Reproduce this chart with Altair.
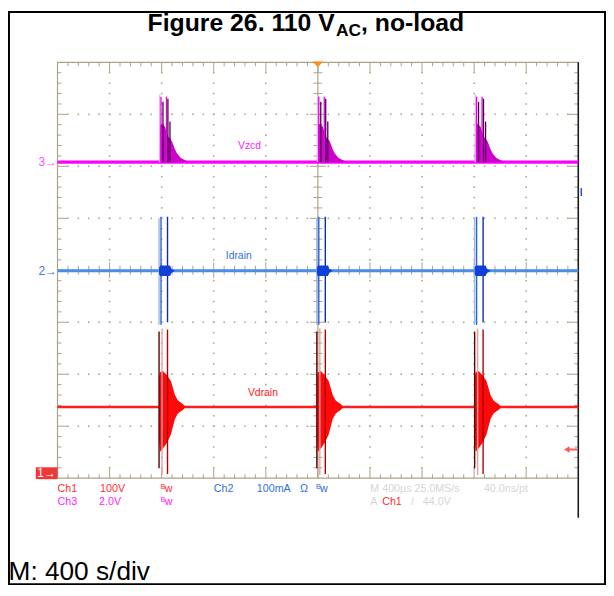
import altair as alt
import numpy as np
import pandas as pd

# ---------------- values ----------------
# horizontal: time in microseconds (400 us/div, 10 div); vertical: screen divisions (8 div)
burst_start_us = [780, 1992, 3204]

trace_names = ["Vzcd", "Idrain", "Vdrain"]
trace_base_div = [6.08, 3.99, 1.37]
trace_colors = ["#ff00ff", "#4a8ee8", "#ff1c1c"]

# Vzcd ringing envelope after each switching event (offset us, height div)
zcd_env_t = [0, 4, 23, 46, 68, 99, 122, 137, 167, 205, 228]
zcd_env_h = [0, 0.70, 0.74, 0.68, 0.50, 0.40, 0.25, 0.17, 0.08, 0.03, 0]
zcd_spike_t = [5, 15, 30, 57, 68, 84]
zcd_spike_h = [1.30, 1.26, 1.16, 1.26, 1.22, 0.78]
zcd_spike_c = ["#eab0f5", "#e600e6", "#4a0048", "#e600e6", "#4a0048", "#4a0048"]

# Idrain blob and spikes
idr_env_t = [0, 8, 84, 95, 122]
idr_env_h = [0.06, 0.10, 0.10, 0.04, 0]
idr_spike_t = [0, 15, 65]
idr_spike_top = [1.01, 1.04, 1.04]
idr_spike_bot = [-1.04, -1.04, -0.99]
idr_spike_c = ["#9db5e6", "#2a62d8", "#0b2fa8"]

# Vdrain ringing envelope and spikes
vdr_env_t = [0, 8, 30, 61, 91, 122, 144, 160, 183, 205]
vdr_env_up = [0.57, 0.67, 0.69, 0.61, 0.50, 0.23, 0.13, 0.095, 0.057, 0]
vdr_env_dn = [0.61, 0.86, 0.80, 0.69, 0.53, 0.23, 0.13, 0.095, 0.057, 0]
vdr_spike_t = [0, 23, 65]
vdr_spike_top = [1.45, 1.51, 1.49]
vdr_spike_bot = [-1.18, -1.31, -1.29]
vdr_spike_c = ["#5a0000", "#eca0a0", "#b00000"]

# ---------------- helpers ----------------
FONT = "Liberation Sans"
GRID = "#aba386"
xs = alt.Scale(domain=[0, 4000], nice=False, zero=False)
ys = alt.Scale(domain=[0, 8], nice=False, zero=False)


def X(f="x"):
    return alt.X(f"{f}:Q", scale=xs, axis=None)


def Y(f="y"):
    return alt.Y(f"{f}:Q", scale=ys, axis=None)


zb, ib, vb = trace_base_div

# ---------------- graticule ----------------
minor_x = np.round(np.arange(0, 4000.1, 80), 3)
minor_y = np.round(np.arange(0, 8.001, 0.2), 3)
major_x = [400 * i for i in range(1, 10) if i != 5]
major_y = [i for i in range(1, 8) if i != 4]

dots = [dict(x=mx, y=y) for mx in major_x for y in minor_y[1:-1]] + \
       [dict(x=x, y=my) for my in major_y for x in minor_x[1:-1]]
dots_df = pd.DataFrame(dots)

vt, ht = [], []
for x in minor_x[1:-1]:
    maj = abs(x / 400 - round(x / 400)) < 1e-6
    L = 0.19 if maj else 0.076
    vt.append(dict(x=x, y=0, y2=L))
    vt.append(dict(x=x, y=8, y2=8 - L))
    c = 0.152 if maj else 0.086
    vt.append(dict(x=x, y=4 - c, y2=4 + c))
for y in minor_y[1:-1]:
    maj = abs(y - round(y)) < 1e-6
    L = 76 if maj else 30.4
    ht.append(dict(x=0, x2=L, y=y))
    ht.append(dict(x=4000, x2=4000 - L, y=y))
    c = 61 if maj else 34
    ht.append(dict(x=2000 - c, x2=2000 + c, y=y))
vt_df = pd.DataFrame(vt)
ht_df = pd.DataFrame(ht)

frame_v = pd.DataFrame([dict(x=0, y=0, y2=8), dict(x=2000, y=0, y2=8)])
frame_h = pd.DataFrame([dict(x=0, x2=4000, y=0), dict(x=0, x2=4000, y=8), dict(x=0, x2=4000, y=4)])

layers = []
layers.append(alt.Chart(dots_df).mark_square(size=2.4, color=GRID, opacity=1).encode(x=X(), y=Y()))
layers.append(alt.Chart(frame_v).mark_rule(color=GRID, strokeWidth=1.2).encode(x=X(), y=Y(), y2=alt.Y2("y2:Q")))
layers.append(alt.Chart(frame_h).mark_rule(color=GRID, strokeWidth=1.2).encode(x=X(), x2=alt.X2("x2:Q"), y=Y()))
layers.append(alt.Chart(vt_df).mark_rule(color=GRID, strokeWidth=1).encode(x=X(), y=Y(), y2=alt.Y2("y2:Q")))
layers.append(alt.Chart(ht_df).mark_rule(color=GRID, strokeWidth=1).encode(x=X(), x2=alt.X2("x2:Q"), y=Y()))

# dark right edge of the screen
layers.append(alt.Chart(pd.DataFrame([dict(x=4000, y=8, y2=-0.762)])).mark_rule(
    color="#1a1a1a", strokeWidth=1.6).encode(x=X(), y=Y(), y2=alt.Y2("y2:Q")))

# ---------------- traces ----------------
base_df = pd.DataFrame(dict(name=trace_names, x=0, x2=4000, y=trace_base_div, c=trace_colors))


def base_rule(i, w):
    return alt.Chart(base_df.iloc[[i]]).mark_rule(strokeWidth=w).encode(
        x=X(), x2=alt.X2("x2:Q"), y=Y(), color=alt.Color("c:N", scale=None))


def spikes(ts, tops, bots, cols, base, w):
    rows = []
    for b, t0 in enumerate(burst_start_us):
        for dt, tp, bt, c in zip(ts, tops, bots, cols):
            rows.append(dict(x=t0 + dt, y=base + bt, y2=base + tp, c=c))
    return alt.Chart(pd.DataFrame(rows)).mark_rule(strokeWidth=w).encode(
        x=X(), y=Y(), y2=alt.Y2("y2:Q"), color=alt.Color("c:N", scale=None))


def envelope(ts, ups, dns, base, color):
    rows = []
    for b, t0 in enumerate(burst_start_us):
        for dt, u, d in zip(ts, ups, dns):
            rows.append(dict(burst=b, x=t0 + dt, y=base + u, y2=base - d))
    return alt.Chart(pd.DataFrame(rows)).mark_area(color=color, opacity=1, interpolate="linear").encode(
        x=X(), y=Y(), y2=alt.Y2("y2:Q"), detail="burst:N")


# Vdrain (Ch1)
layers.append(base_rule(2, 2.6))
layers.append(envelope(vdr_env_t, vdr_env_up, vdr_env_dn, vb, "#ff0a0a"))
layers.append(spikes(vdr_spike_t, vdr_spike_top, vdr_spike_bot, vdr_spike_c, vb, 1.4))
# Idrain (Ch2)
layers.append(base_rule(1, 3))
layers.append(spikes(idr_spike_t, idr_spike_top, idr_spike_bot, idr_spike_c, ib, 1.4))
layers.append(envelope(idr_env_t, idr_env_h, idr_env_h, ib, "#1040d8"))
# Vzcd (Ch3)
layers.append(base_rule(0, 3.2))
layers.append(envelope(zcd_env_t, zcd_env_h, [0] * len(zcd_env_h), zb, "#cf00cf"))
layers.append(spikes(zcd_spike_t, zcd_spike_h, [0] * len(zcd_spike_h), zcd_spike_c, zb, 1.3))

# ---------------- markers ----------------
# trigger position marker
layers.append(alt.Chart(pd.DataFrame([dict(x=2000, y=7.962)])).mark_point(
    shape="M-1,-0.5L1,-0.5L0,0.5Z", size=121, filled=True, color="#ff8c1a", opacity=1).encode(x=X(), y=Y()))
# trigger level arrow (right)
layers.append(alt.Chart(pd.DataFrame([dict(x=3920, x2=3992, y=0.552)])).mark_rule(
    color="#ff5a5a", strokeWidth=2).encode(x=X(), x2=alt.X2("x2:Q"), y=Y()))
layers.append(alt.Chart(pd.DataFrame([dict(x=3912, y=0.552)])).mark_point(
    shape="triangle-left", size=40, filled=True, color="#ff5a5a", opacity=1).encode(x=X(), y=Y()))
layers.append(alt.Chart(pd.DataFrame([dict(x=4023, y=5.581, y2=5.429)])).mark_rule(
    color="#2050e0", strokeWidth=1.5).encode(x=X(), y=Y(), y2=alt.Y2("y2:Q")))
# Ch1 ground box
layers.append(alt.Chart(pd.DataFrame([dict(x=-167, x2=0, y=0.2095, y2=-0.019)])).mark_rect(
    color="#f03838").encode(x=X(), x2=alt.X2("x2:Q"), y=Y(), y2=alt.Y2("y2:Q")))


def text_layer(df, align, baseline="alphabetic", weight="normal"):
    return alt.Chart(df).mark_text(align=align, baseline=baseline, font=FONT,
                                   fontWeight=weight, clip=False).encode(
        x=X(), y=Y(), text="text:N", color=alt.Color("color:N", scale=None),
        size=alt.Size("size:Q", scale=None))


RED, BLUE, MAG, GRAY = "#ff2e2e", "#2f6fe0", "#ff22ff", "#d6d6d6"

markers = pd.DataFrame([
    dict(text="3\u2192", x=-4, y=zb, color="#ff50ff", size=12),
    dict(text="2\u2192", x=-4, y=ib, color="#3a78e0", size=12),
])
layers.append(text_layer(markers, "right", "middle"))
layers.append(text_layer(pd.DataFrame([dict(text="1\u2192", x=-84, y=0.095, color="white", size=12)]),
                         "center", "middle"))

labels = pd.DataFrame([
    dict(text="Vzcd", x=1475, y=6.40, color="#ff22ff", size=10.5),
    dict(text="Idrain", x=1392, y=4.267, color="#2f6fe0", size=10.5),
    dict(text="Vdrain", x=1578, y=1.638, color="#ff2020", size=10.5),
])
layers.append(text_layer(labels, "center", "middle"))

r1, r2 = -0.272, -0.514
info = pd.DataFrame([
    dict(text="Ch1", x=0, y=r1, color=RED, size=10.8),
    dict(text="100V", x=327, y=r1, color=RED, size=10.8),
    dict(text="B", x=791, y=r1 + 0.06, color=RED, size=7.5),
    dict(text="w", x=823, y=r1, color=RED, size=10.8),
    dict(text="Ch2", x=1201, y=r1, color=BLUE, size=10.8),
    dict(text="100mA", x=1531, y=r1, color=BLUE, size=10.8),
    dict(text="\u03a9", x=1863, y=r1, color=BLUE, size=10.8),
    dict(text="B", x=1985, y=r1 + 0.06, color=BLUE, size=7.5),
    dict(text="w", x=2017, y=r1, color=BLUE, size=10.8),
    dict(text="M 400\u00b5s 25.0MS/s", x=2403, y=r1, color=GRAY, size=10.8),
    dict(text="40.0ns/pt", x=3275, y=r1, color=GRAY, size=10.8),
    dict(text="Ch3", x=0, y=r2, color=MAG, size=10.8),
    dict(text="2.0V", x=319, y=r2, color=MAG, size=10.8),
    dict(text="B", x=791, y=r2 + 0.06, color=MAG, size=7.5),
    dict(text="w", x=823, y=r2, color=MAG, size=10.8),
    dict(text="A", x=2403, y=r2, color=GRAY, size=10.8),
    dict(text="Ch1", x=2494, y=r2, color=RED, size=10.8),
    dict(text="/", x=2715, y=r2, color=GRAY, size=10.8),
    dict(text="44.0V", x=2806, y=r2, color=GRAY, size=10.8),
    dict(text="M: 400 s/div", x=-376, y=-1.962, color="black", size=26.5),
])
layers.append(text_layer(info, "left"))

title = pd.DataFrame([
    dict(text="Figure 26. 110 V", x=692, y=8.610, color="black", size=25),
    dict(text="AC", x=2140, y=8.514, color="black", size=17.5),
    dict(text=", no-load", x=2332, y=8.610, color="black", size=25),
])
layers.append(text_layer(title, "left", weight="bold"))

# outer page frame
layers.append(alt.Chart(pd.DataFrame([dict(x=-372.6, x2=4205.3, y=8.971, y2=-2.038)])).mark_rect(
    filled=False, stroke="black", strokeWidth=2).encode(
    x=X(), x2=alt.X2("x2:Q"), y=Y(), y2=alt.Y2("y2:Q")))

chart = alt.layer(*layers).properties(
    width=526, height=420,
    padding={"left": 50, "top": 52, "right": 28, "bottom": 108},
    autosize=alt.AutoSizeParams(type="none"),
    background="white",
).configure_view(stroke=None)

chart.save("out.html", embed_options={"renderer": "svg", "actions": False})
